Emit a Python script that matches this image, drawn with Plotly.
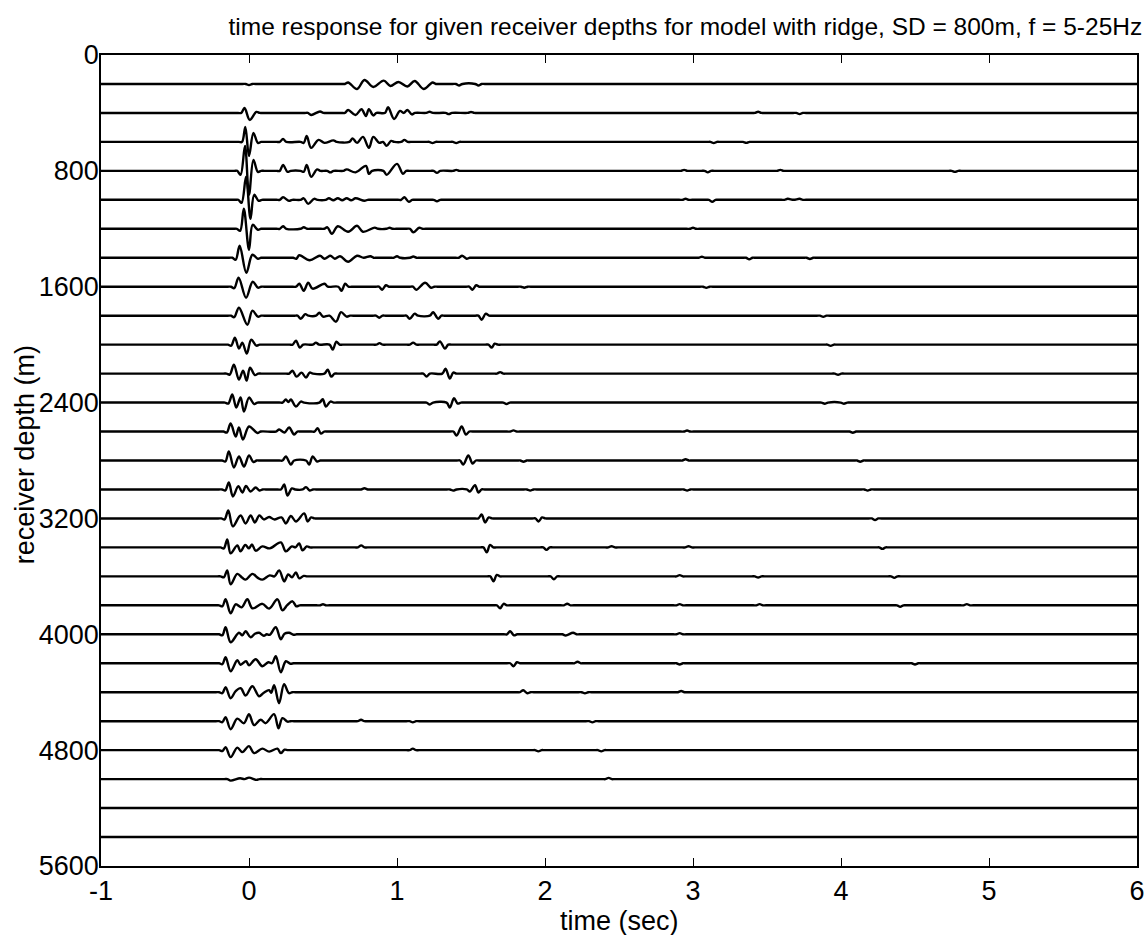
import plotly.graph_objects as go

# ---------------- data ----------------
TITLE = "time response for given receiver depths for model with ridge, SD = 800m, f = 5-25Hz"
X_TICKS = [-1, 0, 1, 2, 3, 4, 5, 6]
Y_TICKS = [0, 800, 1600, 2400, 3200, 4000, 4800, 5600]
DEPTHS = [200 * k for k in range(1, 28)]  # receiver depths (m)

# wiggle picks per trace: (time s, displacement in screen px, + = up)
PICKS = [
    [(0.0, -1.2), (0.67, 1.5), (0.73, -5), (0.78, 4), (0.84, -3), (0.91, 3.3), (0.955, -2), (1.01, 2),
     (1.07, -2.5), (1.12, 3), (1.18, -5), (1.24, 1.5), (1.42, -1.5), (1.55, -1.5)],
    [(-0.03, 5), (0.005, -7), (0.05, 1), (0.42, -2), (0.48, 1.5), (0.67, 3), (0.72, -2), (0.76, 3.7),
     (0.79, -3), (0.81, 3.7), (0.84, -2.5), (0.94, 5.7), (0.98, -6), (1.02, 2), (1.045, 0), (1.07, 3),
     (1.1, -1.5), (1.22, 1.2), (1.35, -1.2), (1.5, 1), (3.44, 1.2), (3.72, -1.2)],
    [(-0.025, 15), (0.0, -14), (0.03, 9), (0.06, -1), (0.23, 3), (0.37, -1), (0.39, 6), (0.42, -6),
     (0.47, 2), (0.51, -1), (0.57, 1.5), (0.70, 3.5), (0.73, -1), (0.77, 5), (0.81, -6), (0.84, 5),
     (0.88, -1), (0.93, -4), (0.96, 1), (1.05, 2), (1.24, -1.2), (1.4, -1.2), (3.14, -1.2), (3.36, -1)],
    [(-0.057, -4), (-0.027, 25), (0.0, -24), (0.03, 11), (0.06, -1), (0.23, 6), (0.26, -1), (0.37, -1),
     (0.39, 6), (0.42, -6), (0.46, 1.5), (0.55, -1.5), (0.66, 1.5), (0.72, -1.5), (0.79, 5), (0.81, -3),
     (0.93, -4), (1.0, 7), (1.04, -3), (1.27, -2), (1.4, 1), (2.94, 1), (3.1, -1.5), (3.59, 1), (4.77, -1)],
    [(-0.05, -3), (-0.02, 23), (0.01, -19), (0.035, 5), (0.065, -1), (0.23, 2.5), (0.27, -1), (0.37, 1.5),
     (0.40, -4), (0.44, 1), (0.54, 1.5), (0.57, -0.5), (0.6, 1.5), (0.63, -0.5), (0.66, 1.5), (0.69, -0.5),
     (0.72, 1.5), (0.78, -1), (1.05, 2.5), (1.08, -2), (1.27, -1.5), (2.95, 1), (3.13, -2), (3.64, 1),
     (3.72, 1)],
    [(-0.06, -2), (-0.035, 20), (0.0, -21), (0.025, 4), (0.06, -1), (0.23, 2.5), (0.37, 1.5), (0.53, 1.5),
     (0.56, -5), (0.6, 2.5), (0.67, -3), (0.73, 3), (0.77, -3), (0.85, 1.2), (0.95, 1), (1.11, -3.5),
     (1.15, 1), (3.0, 1)],
    [(-0.09, -2), (-0.063, 12), (-0.018, -15), (0.023, 3), (0.06, -1), (0.32, -1), (0.34, 2.5), (0.41, -2.5),
     (0.48, 2), (0.51, -1), (0.55, 2), (0.58, -1), (0.615, 1.5), (0.67, -4), (0.73, 2), (0.82, 1.5),
     (1.0, 1.5), (1.11, 1.2), (1.44, 2), (1.47, -1), (3.06, 1), (3.38, -1.5), (3.79, -1.2)],
    [(-0.1, -1.5), (-0.07, 9), (-0.02, -11), (0.025, 5), (0.06, -1), (0.34, 3), (0.37, -4), (0.4, 4),
     (0.43, -2), (0.51, 3), (0.625, -4), (0.65, 3), (0.9, -3), (0.925, 1.5), (1.13, -3), (1.19, 4),
     (1.23, -1), (1.51, -3), (1.535, 1.5), (1.86, -1), (3.09, -1.2)],
    [(-0.1, -1.5), (-0.068, 8), (-0.011, -9), (0.023, 5), (0.06, -1), (0.35, -3), (0.38, 1.5), (0.475, 3),
     (0.5, -1), (0.588, -6), (0.622, 3.5), (0.66, -1), (0.88, -2), (1.086, -3), (1.12, 2), (1.244, 3.5),
     (1.278, -3), (1.572, -4), (1.6, 2), (3.88, -1.2)],
    [(-0.12, -1), (-0.095, 7), (-0.068, -4), (-0.045, 2), (-0.015, -9), (0.015, 5), (0.05, -1), (0.317, 4),
     (0.344, -3), (0.452, 2), (0.566, -5), (0.59, 3), (0.882, 1.5), (1.109, 2), (1.29, 3.3), (1.324, -4),
     (1.64, -3), (1.66, 1), (3.93, -1.2)],
    [(-0.13, -1), (-0.102, 9), (-0.068, -6), (-0.04, 3), (-0.016, -7), (0.007, 6), (0.04, -1.5), (0.294, 3),
     (0.321, -3), (0.355, 1), (0.385, -4), (0.41, 1), (0.532, 4), (0.556, -3), (1.2, -3), (1.328, 5),
     (1.357, -5), (1.38, 1), (1.697, 1.5), (3.98, -1.2)],
    [(-0.14, -1), (-0.113, 8), (-0.086, -5), (-0.057, 5), (-0.034, -9), (0.0, 5), (0.035, -1.5), (0.249, 3),
     (0.266, 0.5), (0.283, 3), (0.317, -4), (0.35, 1), (0.498, 3.3), (0.52, -4), (0.55, 1), (1.222, -2),
     (1.357, -5), (1.385, 4.3), (1.41, -1), (1.74, -1.5), (3.89, -1.2), (4.02, -1.2)],
    [(-0.15, -1), (-0.124, 8), (-0.09, -5), (-0.068, 4), (-0.041, -8), (0.0, 5), (0.057, -1.5), (0.204, 2),
     (0.24, -1), (0.271, 4), (0.305, -3), (0.464, 3.3), (0.486, -2), (1.403, -4), (1.437, 5), (1.466, -3),
     (1.787, 1.2), (2.96, 1), (4.08, -1.2)],
    [(-0.16, -1), (-0.136, 9), (-0.102, -7), (-0.068, 4), (-0.034, -6), (0.0, 5), (0.03, -1.5), (0.249, 4),
     (0.283, -4), (0.407, -4), (0.43, 4), (0.46, -1), (1.448, -4), (1.482, 5), (1.511, -3), (1.855, -1.2),
     (2.95, 1.2), (4.13, -1.2)],
    [(-0.16, -1), (-0.136, 7), (-0.109, -7), (-0.072, 3.3), (-0.045, -3), (-0.02, 3.5), (0.01, -2),
     (0.045, 2), (0.07, -1), (0.238, 5), (0.26, -6), (0.29, 1), (0.385, 2.3), (0.41, -1), (0.78, 1.2),
     (1.38, -1.2), (1.493, -2), (1.527, 4.3), (1.55, -3), (1.9, -1.2), (2.96, -1.2), (4.18, -1.2)],
    [(-0.165, -1), (-0.14, 8), (-0.109, -8), (-0.057, 3), (-0.023, -5), (0.011, 3), (0.04, -4), (0.07, 3),
     (0.1, -1), (0.136, 1.5), (0.17, -1), (0.22, 1), (0.249, -5), (0.283, 2.5), (0.317, -3), (0.373, 5),
     (0.396, -3), (0.42, 1), (1.572, 4), (1.595, -4), (1.62, 1), (1.957, -3), (1.98, 1), (4.23, -1.5)],
    [(-0.17, -1), (-0.147, 8), (-0.124, -6), (-0.079, 2), (-0.057, -4), (-0.025, 2.5), (0.0, -1), (0.02, 3),
     (0.045, -3.3), (0.09, 1), (0.14, -1), (0.215, 5), (0.249, -4), (0.29, 1), (0.339, 4), (0.362, -3),
     (0.39, 1), (0.758, 2), (1.606, -5), (1.629, 2.5), (2.01, -2.5), (2.45, 1.2), (2.97, 1.2), (4.28, -1.5)],
    [(-0.17, -1), (-0.147, 6), (-0.124, -8), (-0.079, 2.5), (-0.045, -1.5), (-0.023, -3.3), (0.023, 2.5),
     (0.06, -1.5), (0.09, -3.3), (0.14, 1), (0.204, 6), (0.238, -5), (0.265, 2), (0.29, -1), (0.317, 4),
     (0.339, -2), (0.37, 0.5), (1.652, -5), (1.674, 1.5), (2.06, -3), (2.91, 1.2), (3.44, -1.2), (4.36, -1.5)],
    [(-0.18, -1), (-0.158, 6), (-0.124, -8), (-0.09, 1), (-0.05, -2), (-0.011, 6), (0.023, -3), (0.09, 1.5),
     (0.136, -3.3), (0.192, 6), (0.226, -5), (0.26, 0.5), (0.294, 4), (0.32, -1), (0.5, 1), (1.697, -3),
     (1.72, 1.5), (2.15, 1.5), (2.91, 1.2), (3.45, 1.2), (4.4, -1.5), (4.85, 1.2)],
    [(-0.18, -1), (-0.158, 7), (-0.124, -8), (-0.068, 1.5), (-0.045, -1), (-0.023, 3), (0.011, -3),
     (0.04, 0.5), (0.068, 1.5), (0.1, -1.5), (0.14, -0.5), (0.181, 7), (0.215, -5), (0.24, 0.5),
     (0.271, 1.5), (0.3, -0.5), (1.765, 3), (1.79, -1), (2.14, -1.2), (2.19, 1.5), (2.91, 1.2)],
    [(-0.18, -1), (-0.158, 6), (-0.124, -8), (-0.079, 3), (-0.057, -1.5), (-0.02, 2), (0.0, -2), (0.045, 4),
     (0.09, -3), (0.13, 1), (0.181, 7), (0.215, -9), (0.249, 2), (0.28, -0.5), (1.787, -3), (1.81, 1),
     (2.22, 1.5), (2.91, -1.2), (4.5, -1.2)],
    [(-0.18, -1), (-0.158, 5), (-0.124, -6), (-0.09, 1), (-0.056, 4), (-0.023, -3.3), (0.023, 6),
     (0.068, -4), (0.1, -0.5), (0.136, 2), (0.15, -0.5), (0.17, 7), (0.203, -11), (0.237, 8), (0.27, -1),
     (1.853, 2), (1.88, -1), (2.27, -1.2), (2.92, 1.2)],
    [(-0.18, -1), (-0.158, 4), (-0.124, -8), (-0.079, 2.5), (-0.034, -2), (0.0, 7), (0.034, -4),
     (0.079, 1.5), (0.113, -2), (0.169, 7), (0.199, -7), (0.226, 3), (0.26, -0.5), (0.757, 1.5),
     (1.107, -1.2), (2.32, -1.2)],
    [(-0.18, -1), (-0.158, 3), (-0.124, -7), (-0.079, 2.5), (-0.045, -2), (0.0, 4), (0.034, -3),
     (0.09, 1.5), (0.136, -1.5), (0.192, 1.5), (0.215, -3), (0.24, 0.5), (1.107, 1.5), (1.955, -1.2),
     (2.38, -1.2)],
    [(-0.124, -1.5), (-0.06, 0.8), (0.0, 1.5), (0.05, -0.8), (2.43, 1.2)],
    [],
    [],
]

# ---------------- rendering settings ----------------
T_START, T_END = -1.0, 6.0
PX_TO_DEPTH = 5600.0 / 811.0   # screen pixel -> depth units
HALF = 0.022                   # half-width of a lone lobe (s)
FONT = "Liberation Sans, Arial, Helvetica, sans-serif"


def trace_points(picks, depth):
    """Polyline through the picked extrema, resting on the baseline between groups."""
    base = float(depth)
    xs, ys = [T_START], [base]
    n = len(picks)
    for i, (t, a) in enumerate(picks):
        prev_t = picks[i - 1][0] if i > 0 else T_START
        gap = t - prev_t
        if gap > 0.09:
            if gap > 0.15:
                xs.append(t - 2 * HALF); ys.append(base)
            xs.append(t - HALF); ys.append(base)
        xs.append(t); ys.append(depth - a * PX_TO_DEPTH)
        if i < n - 1:
            nt, na = picks[i + 1]
        else:
            nt, na = T_END, 0.0
        gap = nt - t
        if gap > 0.09:
            xs.append(t + HALF); ys.append(base)
            if gap > 0.15:
                xs.append(t + 2 * HALF); ys.append(base)
        elif gap > 0.04 and a * na > 0:
            # two same-sign lobes: the trace returns to its baseline between them
            xs.append(t + gap / 2); ys.append(base)
    xs.append(T_END); ys.append(base)
    return xs, ys


fig = go.Figure()
for depth, picks in zip(DEPTHS, PICKS):
    xs, ys = trace_points(picks, depth)
    fig.add_trace(go.Scatter(
        x=xs, y=ys, mode="lines",
        line=dict(color="black", width=2.4, shape="spline", smoothing=1.0),
        hoverinfo="skip", showlegend=False,
    ))

axis_common = dict(
    showline=True, linecolor="black", linewidth=1.5, mirror="ticks",
    ticks="inside", ticklen=8, tickwidth=1, tickcolor="black",
    showgrid=False, zeroline=False, automargin=False,
    tickfont=dict(family=FONT, size=27, color="black"),
)

fig.update_layout(
    width=1148, height=935,
    margin=dict(l=101, r=11, t=55, b=69, autoexpand=False),
    paper_bgcolor="white", plot_bgcolor="white",
    title=dict(text=TITLE, font=dict(family=FONT, size=24.5, color="black"),
               xref="container", x=0.597, xanchor="center",
               yref="container", y=0.972, yanchor="middle"),
    xaxis=dict(range=[T_START, T_END], tickvals=X_TICKS, ticktext=[str(v) for v in X_TICKS],
               ticklabelstandoff=0, **axis_common),
    yaxis=dict(range=[5600, 0], tickvals=Y_TICKS, ticktext=[str(v) for v in Y_TICKS],
               ticklabelstandoff=-5, **axis_common),
    annotations=[
        dict(text="time (sec)", xref="paper", yref="paper", x=0.5, y=-0.068,
             xanchor="center", yanchor="middle", showarrow=False,
             font=dict(family=FONT, size=27, color="black")),
        dict(text="receiver depth (m)", xref="paper", yref="paper", x=-0.074, y=0.507,
             xanchor="center", yanchor="middle", textangle=-90, showarrow=False,
             font=dict(family=FONT, size=27, color="black")),
    ],
)

fig.write_html("out.html", config={"displayModeBar": False},
               post_script="document.body.style.margin='0';")
